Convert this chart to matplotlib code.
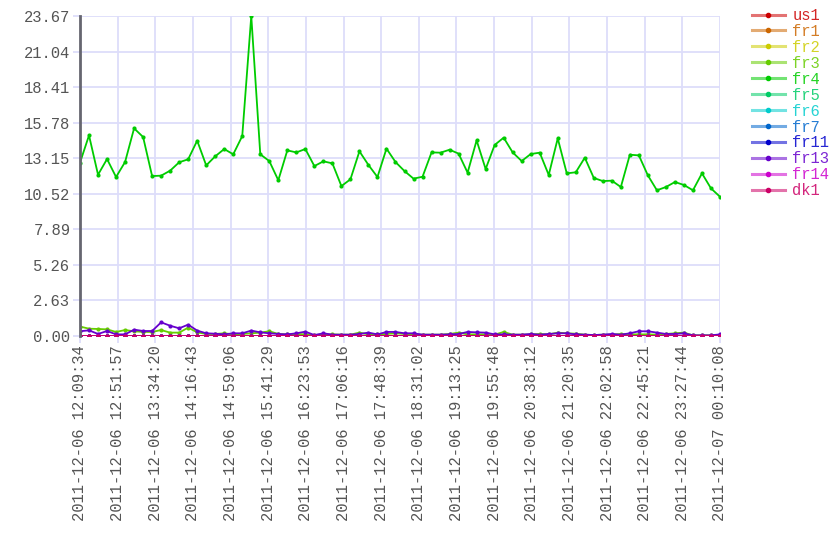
import numpy as np
import matplotlib.pyplot as plt
from matplotlib.lines import Line2D
import colorsys

plt.rcParams['font.family'] = ['Liberation Mono', 'DejaVu Sans Mono']

names = ["us1", "fr1", "fr2", "fr3", "fr4", "fr5", "fr6", "fr7", "fr11", "fr13", "fr14", "dk1"]

time_labels = ["2011-12-06 12:09:34", "2011-12-06 12:51:57", "2011-12-06 13:34:20",
               "2011-12-06 14:16:43", "2011-12-06 14:59:06", "2011-12-06 15:41:29",
               "2011-12-06 16:23:53", "2011-12-06 17:06:16", "2011-12-06 17:48:39",
               "2011-12-06 18:31:02", "2011-12-06 19:13:25", "2011-12-06 19:55:48",
               "2011-12-06 20:38:12", "2011-12-06 21:20:35", "2011-12-06 22:02:58",
               "2011-12-06 22:45:21", "2011-12-06 23:27:44", "2011-12-07 00:10:08"]

# fr4 (the big one)
fr4 = [12.82, 14.84, 11.93, 13.09, 11.76, 12.87, 15.36, 14.72, 11.83, 11.86,
       12.23, 12.85, 13.07, 14.45, 12.62, 13.29, 13.83, 13.44, 14.79, 23.67,
       13.44, 12.94, 11.52, 13.73, 13.58, 13.83, 12.57, 12.92, 12.77, 11.09,
       11.59, 13.66, 12.65, 11.76, 13.86, 12.87, 12.20, 11.64, 11.78, 13.58,
       13.56, 13.78, 13.49, 12.08, 14.47, 12.35, 14.13, 14.67, 13.58, 12.94,
       13.46, 13.56, 11.91, 14.62, 12.03, 12.11, 13.19, 11.69, 11.46, 11.49,
       11.02, 13.41, 13.36, 11.88, 10.78, 11.02, 11.39, 11.17, 10.78, 12.03,
       10.92, 10.30]

fr3 = [0.70, 0.54, 0.52, 0.49, 0.30, 0.44, 0.35, 0.30, 0.30, 0.44,
       0.25, 0.25, 0.62, 0.27, 0.15, 0.15, 0.20, 0.12, 0.15, 0.20,
       0.25, 0.35, 0.15, 0.12, 0.15, 0.12, 0.07, 0.12, 0.12, 0.10,
       0.10, 0.25, 0.12, 0.12, 0.15, 0.20, 0.15, 0.12, 0.10, 0.10,
       0.10, 0.15, 0.25, 0.12, 0.12, 0.12, 0.10, 0.30, 0.10, 0.10,
       0.12, 0.15, 0.12, 0.25, 0.20, 0.17, 0.10, 0.07, 0.10, 0.10,
       0.15, 0.12, 0.12, 0.12, 0.10, 0.15, 0.20, 0.25, 0.05, 0.05,
       0.05, 0.08]

fr13 = [0.35, 0.42, 0.15, 0.37, 0.12, 0.12, 0.47, 0.37, 0.37, 1.01,
        0.76, 0.57, 0.84, 0.40, 0.20, 0.17, 0.12, 0.20, 0.20, 0.40,
        0.27, 0.20, 0.15, 0.12, 0.20, 0.32, 0.07, 0.20, 0.10, 0.10,
        0.10, 0.15, 0.25, 0.12, 0.30, 0.30, 0.20, 0.20, 0.10, 0.10,
        0.10, 0.12, 0.15, 0.30, 0.27, 0.25, 0.12, 0.12, 0.10, 0.10,
        0.15, 0.10, 0.15, 0.20, 0.20, 0.12, 0.10, 0.07, 0.10, 0.15,
        0.10, 0.20, 0.35, 0.35, 0.25, 0.15, 0.15, 0.20, 0.05, 0.05,
        0.05, 0.12]

zeros = [0.0] * len(fr4)
series = {n: zeros for n in names}
series["fr3"] = fr3
series["fr4"] = fr4
series["fr13"] = fr13

# hue wheel palette, 30 degrees apart
colors = [colorsys.hsv_to_rgb(i / 12, 1.0, 0.8) for i in range(12)]

fig = plt.figure(figsize=(8.4, 5.6), dpi=100)
ax = fig.add_axes([80 / 840, 1 - 336 / 560, 640 / 840, 320 / 560])

x = np.arange(len(fr4))
for n, c in zip(names, colors):
    ax.plot(x, series[n], color=c, lw=1.3, marker='o', ms=3, mew=0, zorder=3)

ymax = 23.67
yt = np.linspace(0, ymax, 10)
ax.set_ylim(0, ymax)
ax.set_yticks(yt)
ax.set_yticklabels(["%.2f" % v for v in yt])
ax.set_xlim(0, len(fr4) - 1)
ax.set_xticks(np.linspace(0, len(fr4) - 1, len(time_labels)))
ax.set_xticklabels(time_labels, rotation=90)

ax.grid(True, color='#ddddfa', lw=1.3, zorder=0)
ax.tick_params(axis='both', colors='#ddddfa', labelcolor='#555555', labelsize=11.2,
               length=5, width=1.3, pad=2)
for s in ['top', 'right', 'bottom']:
    ax.spines[s].set_visible(False)
ax.spines['left'].set_color('#666670')
ax.spines['left'].set_linewidth(2)
ax.spines['left'].set_zorder(5)

handles = []
for c in colors:
    handles.append(Line2D([], [], color=(c[0], c[1], c[2], 0.55), lw=2.2,
                          marker='o', ms=3, mfc=c, mec=c))
leg = ax.legend(handles, names, loc='upper left', bbox_to_anchor=(752 / 840, 552 / 560),
                bbox_transform=fig.transFigure, frameon=False, fontsize=11.2,
                handlelength=2.1, handletextpad=0.5, labelspacing=0.06,
                borderpad=0, borderaxespad=0)
for t, c in zip(leg.get_texts(), colors):
    t.set_color(c)
    t.set_alpha(0.85)

fig.savefig("out.png", dpi=100)
